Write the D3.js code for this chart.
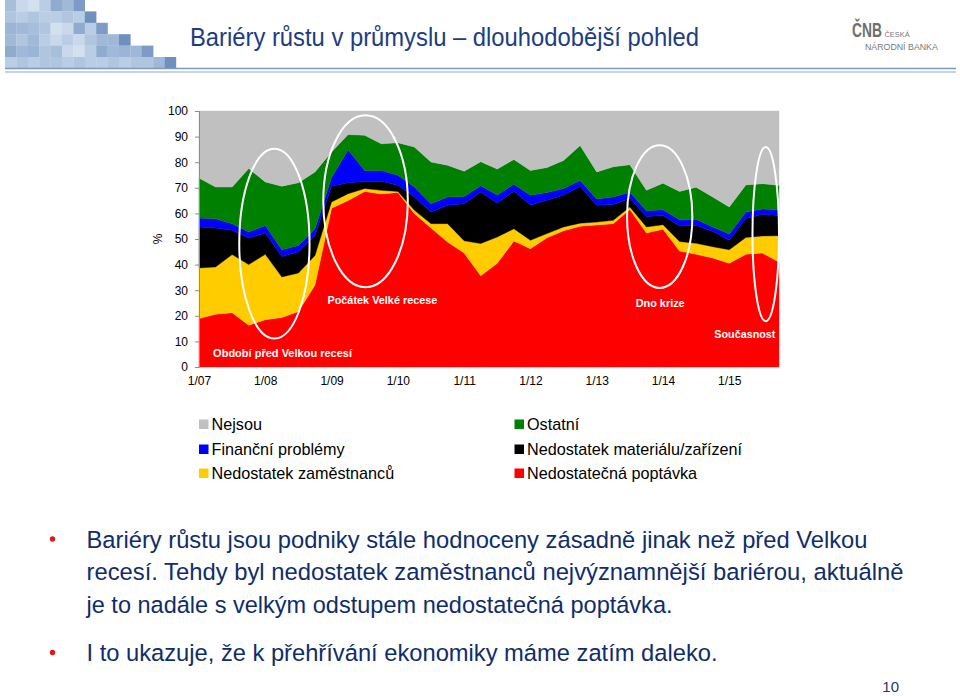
<!DOCTYPE html>
<html>
<head>
<meta charset="utf-8">
<script src="https://cdn.jsdelivr.net/npm/d3@7"></script>
<style>
  html, body { margin: 0; padding: 0; background: #ffffff; }
  svg { display: block; }
</style>
</head>
<body>
<svg id="chart" width="960" height="696"></svg>
<script>
// ---------------- DATA ----------------
const periods = [
  "1/07","4/07","7/07","10/07","1/08","4/08","7/08","10/08",
  "1/09","4/09","7/09","10/09","1/10","4/10","7/10","10/10",
  "1/11","4/11","7/11","10/11","1/12","4/12","7/12","10/12",
  "1/13","4/13","7/13","10/13","1/14","4/14","7/14","10/14",
  "1/15","4/15","7/15","10/15"
];
const yTicks = [0, 10, 20, 30, 40, 50, 60, 70, 80, 90, 100];

// share of firms (%) per barrier, stacked bottom -> top
const poptavka    = [18.9,20.6,21.2,16.3,18.5,19.3,21.7,32.0,62.0,65.0,68.6,67.6,68.2,59.9,54.3,48.8,44.5,35.6,40.5,49.2,46.2,50.5,53.2,55.0,55.5,56.0,61.5,52.3,53.8,45.3,44.0,42.6,40.5,44.0,44.5,41.0];
const zamestnancu = [19.8,18.5,22.7,23.7,25.5,15.9,15.0,11.6,2.5,2.7,1.1,1.4,0.4,1.3,1.7,7.2,4.8,12.6,10.3,4.8,3.3,1.6,1.5,1.2,1.1,1.3,1.0,2.4,1.8,3.7,4.3,4.4,5.3,6.6,6.7,10.3];
const material    = [16.0,15.2,9.5,10.4,8.3,8.0,8.2,7.8,6.1,4.3,2.8,3.6,2.4,5.2,4.5,7.2,14.5,20.2,13.2,14.7,13.8,13.0,12.5,14.3,6.6,6.2,3.3,4.1,3.6,6.1,7.0,6.0,3.7,7.4,8.5,7.9];
const financni    = [3.5,3.6,2.6,2.3,3.0,2.6,2.6,2.6,3.4,12.8,4.3,4.2,3.9,3.9,3.3,3.2,2.8,2.4,3.2,2.7,3.8,3.1,2.5,2.4,2.4,2.9,2.5,2.2,2.2,2.4,2.4,1.7,2.5,2.5,2.0,2.2];
const ostatni     = [15.6,12.4,14.3,24.8,17.0,24.8,24.5,22.2,10.0,6.0,13.7,10.4,12.7,15.6,16.3,12.4,9.9,9.4,10.1,9.7,9.7,9.7,11.0,13.6,10.6,11.8,10.7,8.0,10.4,11.1,12.5,11.7,10.5,10.6,9.9,9.6];
const nejsou      = [26.2,29.7,29.7,22.5,27.7,29.4,28.0,23.8,16.0,9.2,9.5,12.8,12.4,14.1,19.9,21.2,23.5,19.8,22.7,18.9,23.2,22.1,19.3,13.5,23.8,21.8,21.0,31.0,28.2,31.4,29.8,33.6,37.5,28.9,28.4,29.0];

const seriesKeys   = ["poptavka","zamestnancu","material","financni","ostatni","nejsou"];
const seriesNames  = ["Nedostatečná poptávka","Nedostatek zaměstnanců","Nedostatek materiálu/zařízení","Finanční problémy","Ostatní","Nejsou"];
const seriesColors = ["#ff0000","#ffcc00","#000000","#0000ff","#008000","#c0c0c0"];

// legend layout order (left column, right column)
const legendLeft  = ["nejsou","financni","zamestnancu"];
const legendRight = ["ostatni","material","poptavka"];

// annotations: text, period index of left edge, value of baseline
const notes = [
  {text:"Období před Velkou recesí", i:0.85, v:4.0, w:139},
  {text:"Počátek Velké recese",      i:7.75, v:24.5, w:110},
  {text:"Dno krize",                 i:26.35, v:23.5, w:49},
  {text:"Současnost",                i:31.1, v:11.2, w:61}
];
// ellipses: centre index, value bottom/top, half width in periods
const rings = [
  {i:4.55, lo:11.1, hi:85.3, ri:2.12},
  {i:10.05, lo:31.2, hi:98.3, ri:2.55},
  {i:27.8, lo:30.9, hi:86.6, ri:1.97},
  {i:34.2, lo:17.9, hi:85.9, ri:0.8}
];

const titleText = "Bariéry růstu v průmyslu – dlouhodobější pohled";
const bullets = [
  ["Bariéry růstu jsou podniky stále hodnoceny zásadně jinak než před Velkou",
   "recesí. Tehdy byl nedostatek zaměstnanců nejvýznamnější bariérou, aktuálně",
   "je to nadále s velkým odstupem nedostatečná poptávka."],
  ["I to ukazuje, že k přehřívání ekonomiky máme zatím daleko."]
];
const bulletWidths = [[781, 817, 586], [631]];

// ---------------- DRAW ----------------
const svg = d3.select("#chart");
const NARROW = "'Liberation Sans Narrow','Arial Narrow','Liberation Sans',Arial,sans-serif";
const SANS = "'Liberation Sans',Arial,Helvetica,sans-serif";

// header mosaic (decoration)
const mosaicRows = [7, 8, 9, 11, 13, 15];
const tilePal = ["#a7bfdb","#b9cde4","#9ab5d5","#c9d8ea","#8fabcf","#b0c6df","#d3e0ee","#a0b9d8"];
const mg = svg.append("g");
mosaicRows.forEach((n, r) => {
  for (let c = 0; c < n; c++) {
    let col = tilePal[(r * 5 + c * 3 + (c * r) % 4) % tilePal.length];
    if (c === n - 1) col = r % 2 ? "#6f8fbd" : "#7d9bc6";
    if (c === n - 2 && r > 2) col = "#9fb8d8";
    mg.append("rect")
      .attr("x", 5 + c * 11.4).attr("y", r * 11.4)
      .attr("width", 11.6).attr("height", 11.6)
      .attr("fill", col);
  }
});
svg.append("line").attr("x1", 5).attr("x2", 956).attr("y1", 68.5).attr("y2", 68.5)
  .attr("stroke", "#7e99bf").attr("stroke-width", 1.5);
svg.append("line").attr("x1", 5).attr("x2", 956).attr("y1", 72).attr("y2", 72)
  .attr("stroke", "#b3c5dc").attr("stroke-width", 1.5);

// title
svg.append("text").attr("x", 190).attr("y", 45.5)
  .attr("font-family", NARROW).attr("font-size", 26.5).attr("fill", "#1b3d82")
  .attr("textLength", 509).attr("lengthAdjust", "spacingAndGlyphs")
  .text(titleText);

// logo
svg.append("g").attr("transform", "translate(852,37) scale(1,1.45)")
  .append("text").attr("x", 0).attr("y", 0)
  .attr("font-family", SANS).attr("font-size", 13.8).attr("font-weight", "bold")
  .attr("fill", "#6e6e6e").text("ČNB");
svg.append("text").attr("x", 884.5).attr("y", 37)
  .attr("font-family", SANS).attr("font-size", 7.4).attr("fill", "#7a7a7a")
  .text("ČESKÁ");
svg.append("text").attr("x", 865).attr("y", 49.5)
  .attr("font-family", SANS).attr("font-size", 8.8).attr("fill", "#7a7a7a")
  .text("NÁRODNÍ BANKA");

// chart scales
const X0 = 199, X1 = 779, Y0 = 367, Y1 = 111;
const x = d3.scalePoint().domain(periods).range([X0, X1]);
const xi = d3.scaleLinear().domain([0, periods.length - 1]).range([X0, X1]);
const y = d3.scaleLinear().domain([0, 100]).range([Y0, Y1]);

const table = periods.map((p, i) => ({
  period: p,
  poptavka: poptavka[i], zamestnancu: zamestnancu[i], material: material[i],
  financni: financni[i], ostatni: ostatni[i], nejsou: nejsou[i]
}));
const stacked = d3.stack().keys(seriesKeys)(table);
const area = d3.area()
  .x(d => x(d.data.period))
  .y0(d => y(d[0]))
  .y1(d => y(d[1]));

const plot = svg.append("g");
plot.selectAll("path.layer").data(stacked).join("path")
  .attr("class", "layer")
  .attr("d", area)
  .attr("fill", (d, i) => seriesColors[i])
  .attr("stroke", (d, i) => seriesColors[i])
  .attr("stroke-width", 0.4);

// axes
const yAxis = svg.append("g").attr("transform", `translate(${X0},0)`)
  .call(d3.axisLeft(y).tickValues(yTicks).tickSize(4).tickPadding(7));
yAxis.select(".domain").attr("stroke", "#8c8c8c");
yAxis.selectAll(".tick line").attr("stroke", "#8c8c8c");
yAxis.selectAll("text").attr("font-family", SANS).attr("font-size", 12).attr("fill", "#000");

const xAxis = svg.append("g").attr("transform", `translate(0,${Y0})`)
  .call(d3.axisBottom(x).tickValues(periods.filter(p => p.startsWith("1/"))).tickSize(0).tickPadding(9));
xAxis.select(".domain").remove();
xAxis.selectAll("text").attr("font-family", SANS).attr("font-size", 12).attr("fill", "#000");

svg.append("text").attr("transform", `translate(162,${y(50)}) rotate(-90)`)
  .attr("text-anchor", "middle").attr("font-family", SANS).attr("font-size", 12)
  .text("%");

// ellipses
svg.append("g").selectAll("ellipse").data(rings).join("ellipse")
  .attr("cx", d => xi(d.i))
  .attr("cy", d => (y(d.lo) + y(d.hi)) / 2)
  .attr("rx", d => xi(d.ri) - xi(0))
  .attr("ry", d => (y(d.lo) - y(d.hi)) / 2)
  .attr("fill", "none").attr("stroke", "#ffffff").attr("stroke-width", 2);

// annotation texts
svg.append("g").selectAll("text").data(notes).join("text")
  .attr("x", d => xi(d.i)).attr("y", d => y(d.v))
  .attr("font-family", SANS).attr("font-size", 10.5).attr("font-weight", "bold")
  .attr("fill", "#ffffff")
  .attr("textLength", d => d.w).attr("lengthAdjust", "spacingAndGlyphs")
  .text(d => d.text);

// legend
const legRowY = [430, 455, 479];
function legendCol(keys, xs) {
  const g = svg.append("g");
  keys.forEach((k, r) => {
    const idx = seriesKeys.indexOf(k);
    g.append("rect").attr("x", xs).attr("y", legRowY[r] - 10.5)
      .attr("width", 9.5).attr("height", 9.5).attr("fill", seriesColors[idx]);
    g.append("text").attr("x", xs + 12.5).attr("y", legRowY[r])
      .attr("font-family", SANS).attr("font-size", 16.2).attr("fill", "#000")
      .text(seriesNames[idx]);
  });
}
legendCol(legendLeft, 199);
legendCol(legendRight, 514.5);

// bullet text
const lineBase = [[547.5, 580, 612.5], [661]];
bullets.forEach((lines, b) => {
  svg.append("circle").attr("cx", 52.5).attr("cy", lineBase[b][0] - 8.5).attr("r", 2.7)
    .attr("fill", "#e8141b");
  lines.forEach((t, j) => {
    svg.append("text").attr("x", 86.5).attr("y", lineBase[b][j])
      .attr("font-family", NARROW).attr("font-size", 24.5).attr("fill", "#0f2d6b")
      .attr("textLength", bulletWidths[b][j]).attr("lengthAdjust", "spacingAndGlyphs")
      .text(t);
  });
});

// page number
svg.append("text").attr("x", 899).attr("y", 692).attr("text-anchor", "end")
  .attr("font-family", NARROW).attr("font-size", 15).attr("fill", "#2a3560")
  .text("10");
</script>
</body>
</html>
